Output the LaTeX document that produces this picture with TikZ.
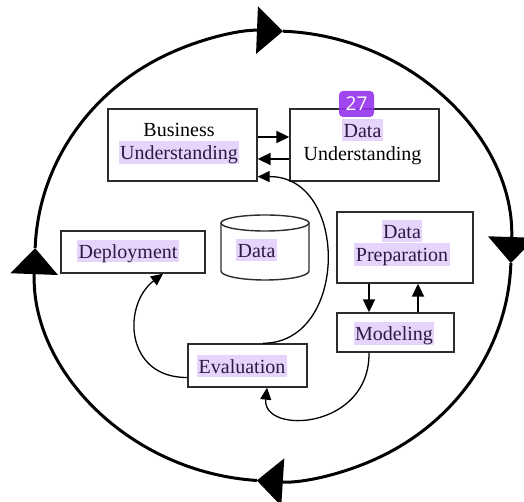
\documentclass[tikz,border=0pt]{standalone}
\usepackage{fontspec}
\setmainfont{Liberation Serif}
\newfontfamily\badgefont{Open Sans}
\usetikzlibrary{arrows.meta}
\definecolor{hlbg}{RGB}{231,212,252}
\definecolor{hltx}{RGB}{45,25,70}
\definecolor{boxline}{RGB}{45,45,45}
\definecolor{badgec}{RGB}{150,50,238}
\newcommand\hlw[1]{{\setlength{\fboxsep}{0pt}\colorbox{hlbg}{\rule[-3.5pt]{0pt}{22pt}\hspace{1.5pt}\textcolor{hltx}{#1}\hspace{1.5pt}}}}
\begin{document}
\begin{tikzpicture}[x=1pt,y=1pt,
  stage/.style={draw=boxline, line width=1.4pt, rectangle, inner sep=0pt},
  stagetext/.style={inner sep=0pt, align=center, font=\fontsize{20}{23}\selectfont},
  bigarr/.style={line width=3pt, -{Triangle[length=26pt,width=47pt]}},
  flow/.style={line width=2pt, -{Triangle[length=13pt,width=12pt]}},
  loopc/.style={line width=1.3pt, -{Triangle[length=12pt,width=11pt]}},
  cyl/.style={draw=boxline, line width=1.4pt},
]
\useasboundingbox (0,0) rectangle (524,502);
\fill[white] (0,0) rectangle (524,502);

% big cycle
\coordinate (cc) at (273,246);
\draw[bigarr] ([shift={(cc)}]178:238pt and 225pt) arc[start angle=178, end angle=87.6, x radius=238pt, y radius=225pt];
\draw[bigarr] ([shift={(cc)}]87.6:238pt and 225pt) arc[start angle=87.6, end angle=-1.8, x radius=238pt, y radius=225pt];
\draw[bigarr] ([shift={(cc)}]-1.8:238pt and 225pt) arc[start angle=-1.8, end angle=-93.9, x radius=238pt, y radius=225pt];
\draw[bigarr] ([shift={(cc)}]-93.9:238pt and 225pt) arc[start angle=-93.9, end angle=-182, x radius=238pt, y radius=225pt];

% stages
\node[stage, minimum width=149pt, minimum height=72pt,
  label={[stagetext, name=bu-t, xshift=-3.5pt, yshift=1pt]center:Business\\\hlw{Understanding}}] (bu) at (182.5,357) {};
\node[stage, minimum width=149pt, minimum height=72pt,
  label={[stagetext, name=du-t, xshift=-2pt, yshift=3.5pt]center:\hlw{Data}\\Understanding}] (du) at (364.5,357) {};
\node[stage, minimum width=144pt, minimum height=42pt,
  label={[stagetext, name=dep-t, xshift=-5pt, yshift=1pt]center:\hlw{Deployment}}] (dep) at (133,250) {};
\node[stage, minimum width=136pt, minimum height=71pt,
  label={[stagetext, name=dp-t, xshift=-3pt, yshift=4.5pt]center:\hlw{Data}\\\hlw{Preparation}}] (dp) at (405,254.5) {};
\node[stage, minimum width=117pt, minimum height=39pt,
  label={[stagetext, name=mod-t, xshift=-1.5pt, yshift=-1pt]center:\hlw{Modeling}}] (mod) at (395.5,169.5) {};
\node[stage, minimum width=119pt, minimum height=43pt,
  label={[stagetext, name=ev-t, xshift=-5.5pt, yshift=-0.5pt]center:\hlw{Evaluation}}] (ev) at (247.5,136.5) {};

% data cylinder
\draw[cyl] (265,279) ellipse [x radius=44pt, y radius=8pt];
\draw[cyl] (221,279) -- (221,231) arc[start angle=180, end angle=360, x radius=44pt, y radius=9pt] -- (309,279);
\node[stagetext] (data) at (256.5,251.5) {\hlw{Data}};

% straight connectors
\draw[flow] ([yshift=8pt]bu.east) -- ([yshift=8pt]du.west);
\draw[flow] ([yshift=-14pt]du.west) -- ([yshift=-14pt]bu.east);
\draw[flow] ([xshift=-36pt]dp.south) -- ([xshift=-36pt]dp.south |- mod.north);
\draw[flow] ([xshift=13pt]dp.south |- mod.north) -- ([xshift=13pt]dp.south);

% curved connectors
\draw[loopc] ([xshift=15.5pt]ev.north) .. controls (349,159) and (349,326) .. ([yshift=5pt]bu.south east);
\draw[loopc] ([yshift=-12pt]ev.west) .. controls (125,124) and (122,197) .. ([xshift=30pt]dep.south);
\draw[loopc] ([xshift=-26.5pt]mod.south) .. controls (370,72) and (262,67) .. ([xshift=19.5pt]ev.south);

% badge
\node[fill=badgec, fill opacity=0.9, text opacity=1, text=white, rounded corners=4pt, minimum width=35pt, minimum height=26pt, inner sep=0pt, font=\badgefont\fontsize{19}{19}\selectfont] (badge) at (356.5,398) {27};
\end{tikzpicture}
\end{document}
